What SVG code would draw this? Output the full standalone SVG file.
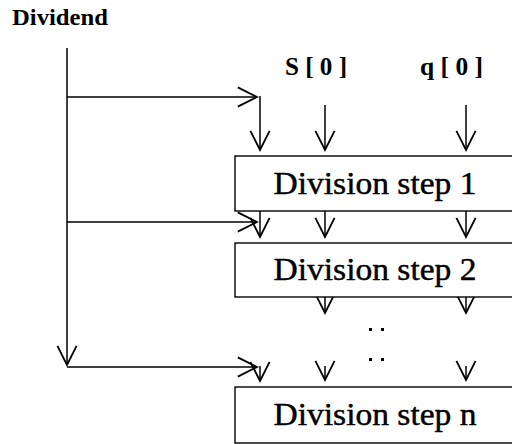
<svg xmlns="http://www.w3.org/2000/svg" width="512" height="444" viewBox="0 0 512 444">
  <style>
    .wire { fill: none; stroke: #000; stroke-width: 1.5; marker-end: url(#vee); }
    .box { fill: #fff; stroke: #000; stroke-width: 1.4; }
    .step { font-family: "Liberation Serif", "DejaVu Serif", serif; font-size: 32px; fill: #000; stroke: #000; stroke-width: 0.45; text-anchor: middle; }
    .label { font-family: "Liberation Serif", "DejaVu Serif", serif; font-size: 26px; font-weight: bold; fill: #000; }
    .dot { fill: #000; }
  </style>
  <defs>
    <marker id="vee" markerUnits="userSpaceOnUse" markerWidth="24" markerHeight="24" viewBox="-18 -10 20 20" refX="0" refY="0" orient="auto">
      <path d="M-16,-8 L0,0 L-16,8" fill="none" stroke="#000" stroke-width="1.5"/>
    </marker>
  </defs>

  <text class="label" x="12" y="25" style="font-size:24px" textLength="96" lengthAdjust="spacingAndGlyphs">Dividend</text>
  <text class="label" x="285" y="75" textLength="62" lengthAdjust="spacingAndGlyphs">S [ 0 ]</text>
  <text class="label" x="420" y="75" textLength="63" lengthAdjust="spacingAndGlyphs">q [ 0 ]</text>

  <g id="connectors">
    <!-- dividend trunk and its three taps -->
    <line class="wire" x1="67" y1="48" x2="67" y2="365"/>
    <line class="wire" x1="67" y1="97" x2="257" y2="97"/>
    <line class="wire" x1="67" y1="222" x2="257" y2="222"/>
    <line class="wire" x1="67" y1="367" x2="257" y2="367"/>

    <!-- inputs into step 1 -->
    <line class="wire" x1="260" y1="96" x2="260" y2="150"/>
    <line class="wire" x1="325" y1="105" x2="325" y2="150"/>
    <line class="wire" x1="466" y1="105" x2="466" y2="150"/>

    <!-- step 1 to step 2 -->
    <line class="wire" x1="260" y1="211" x2="260" y2="237"/>
    <line class="wire" x1="325" y1="211" x2="325" y2="237"/>
    <line class="wire" x1="466" y1="211" x2="466" y2="237"/>

    <!-- out of step 2 -->
    <line class="wire" x1="325" y1="297" x2="325" y2="313"/>
    <line class="wire" x1="466" y1="297" x2="466" y2="313"/>

    <!-- into step n -->
    <line class="wire" x1="260" y1="366" x2="260" y2="381"/>
    <line class="wire" x1="325" y1="366" x2="325" y2="380"/>
    <line class="wire" x1="466" y1="366" x2="466" y2="380"/>
  </g>

  <!-- ellipsis between step 2 and step n -->
  <g id="ellipsis">
    <rect class="dot" x="369" y="328" width="3" height="3"/>
    <rect class="dot" x="381" y="328" width="3" height="3"/>
    <rect class="dot" x="369" y="358" width="3" height="3"/>
    <rect class="dot" x="381" y="358" width="3" height="3"/>
  </g>

  <g id="step1">
    <rect class="box" x="235" y="156" width="290" height="55"/>
    <text class="step" x="375" y="194" textLength="203" lengthAdjust="spacingAndGlyphs">Division step 1</text>
  </g>
  <g id="step2">
    <rect class="box" x="235" y="243" width="290" height="54"/>
    <text class="step" x="375" y="280" textLength="203" lengthAdjust="spacingAndGlyphs">Division step 2</text>
  </g>
  <g id="stepn">
    <rect class="box" x="235" y="387" width="290" height="56"/>
    <text class="step" x="375" y="425" textLength="203" lengthAdjust="spacingAndGlyphs">Division step n</text>
  </g>
</svg>
